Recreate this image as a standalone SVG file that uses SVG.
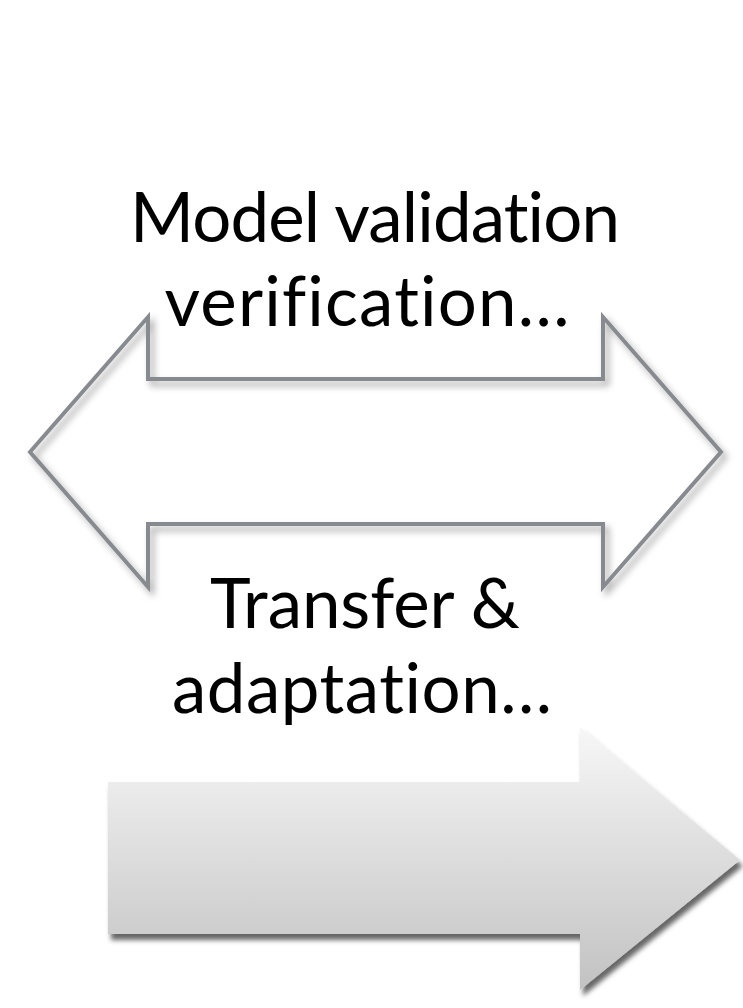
<svg xmlns="http://www.w3.org/2000/svg" width="743" height="1008" viewBox="0 0 743 1008">
  <defs>
    <style>
      .lbl { font-family: Lato, "Open Sans", "Liberation Sans", sans-serif; font-size: 69px; fill: #000; text-anchor: middle; font-variant-ligatures: none; font-feature-settings: "liga" 0, "clig" 0; }
      .outline { fill: none; stroke: #878a8e; stroke-width: 4; stroke-linejoin: miter; }
    </style>
    <filter id="softShadow" x="-10%" y="-10%" width="130%" height="130%">
      <feDropShadow dx="4" dy="5" stdDeviation="3.5" flood-color="#000" flood-opacity="0.35"/>
    </filter>
    <filter id="hardShadow" x="-10%" y="-10%" width="130%" height="130%">
      <feDropShadow dx="3" dy="6" stdDeviation="2.5" flood-color="#000" flood-opacity="0.6"/>
    </filter>
    <linearGradient id="grayGrad" x1="0" y1="0" x2="0" y2="1">
      <stop offset="0" stop-color="#f7f7f7"/>
      <stop offset="1" stop-color="#c2c2c2"/>
    </linearGradient>
  </defs>

  <rect width="743" height="1008" fill="#fff"/>

  <g id="double-arrow">
    <path class="outline" filter="url(#softShadow)" d="M30,452 L148,317 L148,379 L603,379 L603,317 L721,452 L603,587 L603,524 L148,524 L148,587 Z"/>
  </g>

  <g id="forward-arrow">
    <path fill="url(#grayGrad)" filter="url(#hardShadow)" d="M108,782 L580,782 L580,727 L740,860 L580,990 L580,934 L108,934 Z"/>
  </g>

  <g id="label-top">
    <text class="lbl" x="375" y="242" textLength="490" lengthAdjust="spacing">Model validation</text>
    <text class="lbl" x="367" y="326" textLength="405" lengthAdjust="spacing">verification…</text>
  </g>

  <g id="label-bottom">
    <text class="lbl" x="365" y="628" textLength="310" lengthAdjust="spacing">Transfer &amp;</text>
    <text class="lbl" x="362" y="713" textLength="380" lengthAdjust="spacing">adaptation…</text>
  </g>

  <g id="connectors"/>
</svg>
